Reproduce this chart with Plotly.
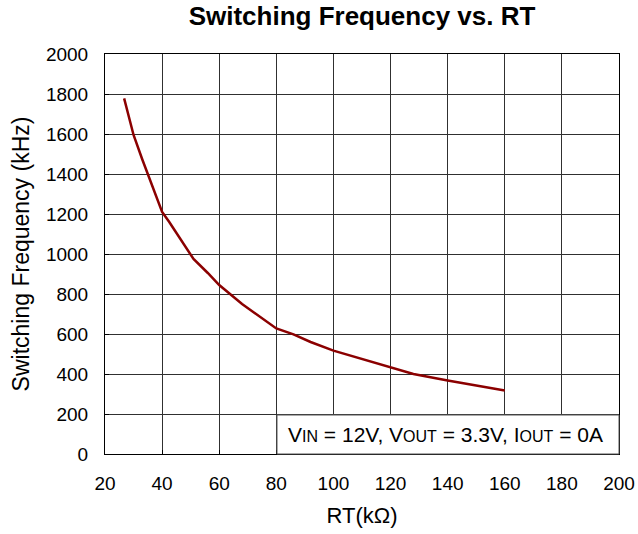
import plotly.graph_objects as go

rt_kohm = [26.7, 30, 33, 36, 40, 42.5, 47, 51, 56, 60, 68, 75, 80, 86, 92, 100, 110, 120, 128, 140, 150, 160]
fsw_khz = [1778, 1595, 1475, 1365, 1210, 1160, 1060, 975, 905, 845, 750, 680, 628, 598, 560, 517, 475, 432, 400, 367, 342, 317]

x_ticks = [20, 40, 60, 80, 100, 120, 140, 160, 180, 200]
y_ticks = [0, 200, 400, 600, 800, 1000, 1200, 1400, 1600, 1800, 2000]

font = "Liberation Sans, Arial, sans-serif"

fig = go.Figure()
fig.add_trace(go.Scatter(x=rt_kohm, y=fsw_khz, mode="lines",
                         line=dict(color="#8B0000", width=2.5),
                         showlegend=False, hoverinfo="skip"))

axis_common = dict(showline=True, linecolor="black", linewidth=1, mirror=True,
                   showgrid=True, gridcolor="#303030", gridwidth=1,
                   ticks="inside", ticklen=4, tickcolor="black",
                   tickfont=dict(family=font, size=19, color="black"),
                   zeroline=False, automargin=False)

W, H = 638, 534
L, R, T, B = 105, 19, 54, 80
fig.update_layout(
    width=W, height=H,
    margin=dict(l=L, r=R, t=T, b=B),
    paper_bgcolor="white", plot_bgcolor="white",
    title=dict(text="<b>Switching Frequency vs. RT</b>", x=(L + (W - R)) / 2 / W, xanchor="center",
               y=1 - 16 / H, yanchor="middle",
               font=dict(family=font, size=26, color="black")),
    xaxis=dict(range=[20, 200], tickvals=x_ticks, ticklabelstandoff=12, **axis_common,
               title=dict(text="RT(kΩ)", font=dict(family=font, size=22, color="black"), standoff=14)),
    yaxis=dict(range=[0, 2000], tickvals=y_ticks, ticklabelstandoff=12, **axis_common,
               title=dict(text="Switching Frequency (kHz)", font=dict(family=font, size=23, color="black"), standoff=9)),
)

fig.add_shape(type="rect", xref="paper", yref="paper", x0=0.3346, x1=1.0, y0=0.0, y1=0.0975,
              fillcolor="white", line=dict(color="#555555", width=1), layer="above")
sub = '<span style="font-size:16px">{}</span>'
fig.add_annotation(xref="paper", yref="paper", x=0.6625, y=0.05, xanchor="center", yanchor="middle",
                   showarrow=False,
                   text=f"V{sub.format('IN')} = 12V, V{sub.format('OUT')} = 3.3V, I{sub.format('OUT')} = 0A",
                   font=dict(family=font, size=21, color="black"))

fig.write_html("out.html", config={"displayModeBar": False},
               post_script="document.body.style.margin='0';")
